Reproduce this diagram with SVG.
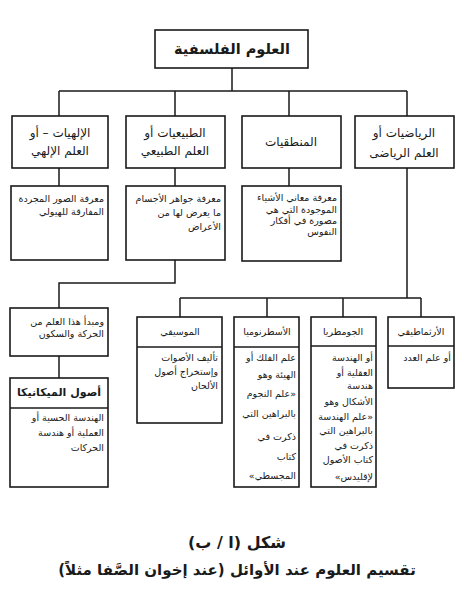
<svg xmlns="http://www.w3.org/2000/svg" width="476" height="591" viewBox="0 0 476 591">
<style>
.bx{fill:#fff;stroke:#1a1a1a;stroke-width:1.6}
.ln{fill:none;stroke:#1a1a1a;stroke-width:1.5}
text{font-family:"DejaVu Sans","Noto Sans",sans-serif;direction:rtl;fill:#1a1a1a}
.h{font-size:12px;text-anchor:middle}
.b{font-size:9.5px;text-anchor:start}
.c{font-size:9.5px;text-anchor:middle}
.ttl{font-size:14.5px;font-weight:bold;text-anchor:middle}
.mt{font-size:11px;font-weight:bold;text-anchor:middle}
.cap{font-size:16px;font-weight:bold;text-anchor:middle}
.cap2{font-size:15px;font-weight:bold;text-anchor:middle}
</style>
<rect width="476" height="591" fill="#fff"/>
<g id="connectors">
<path class="ln" d="M232 68V91M59 91H407M59 91V116M175 91V116M289 91V116M407 91V116"/>
<path class="ln" d="M59 168V186M175 168V186M289 168V186M407 168V298"/>
<path class="ln" d="M175 260V283H59V308M59 356V378"/>
<path class="ln" d="M180 298H421M180 298V317M267 298V317M343 298V317M421 298V317"/>
</g>
<g id="root">
<rect class="bx" x="155" y="30" width="153" height="38"/>
<text class="ttl" x="232" y="54">العلوم الفلسفية</text>
</g>
<g id="ilahiyat">
<rect class="bx" x="12" y="116" width="96" height="52"/>
<text class="h" x="60" y="137">الإلهيات – أو</text>
<text class="h" x="60" y="155">العلم الإلهي</text>
</g>
<g id="tabiiyat">
<rect class="bx" x="126" y="116" width="99" height="52"/>
<text class="h" x="175" y="137">الطبيعيات أو</text>
<text class="h" x="175" y="155">العلم الطبيعي</text>
</g>
<g id="mantiqiyat">
<rect class="bx" x="242" y="116" width="99" height="52"/>
<text class="h" x="291" y="146">المنطقيات</text>
</g>
<g id="riyadiyat">
<rect class="bx" x="355" y="116" width="99" height="52"/>
<text class="h" x="404" y="137">الرياضيات أو</text>
<text class="h" x="404" y="157">العلم الرياضى</text>
</g>
<g id="ilahiyat-desc">
<rect class="bx" x="11" y="186" width="97" height="74"/>
<text class="b" x="104" y="202">معرفة الصور المجردة</text>
<text class="b" x="104" y="215">المفارقة للهيولي</text>
</g>
<g id="tabiiyat-desc">
<rect class="bx" x="126" y="186" width="99" height="74"/>
<text class="b" x="221" y="202">معرفة جواهر الأجسام</text>
<text class="b" x="221" y="216">ما يعرض لها من</text>
<text class="b" x="221" y="230">الأعراض</text>
</g>
<g id="mantiqiyat-desc">
<rect class="bx" x="242" y="186" width="99" height="75"/>
<text class="b" x="337" y="201">معرفة معاني الأشياء</text>
<text class="b" x="337" y="213">الموجودة التي هي</text>
<text class="b" x="337" y="224">مصورة في أفكار</text>
<text class="b" x="337" y="235">النفوس</text>
</g>
<g id="mabda">
<rect class="bx" x="10" y="308" width="98" height="48"/>
<text class="b" x="104" y="325">ومبدأ هذا العلم من</text>
<text class="b" x="104" y="337">الحركة والسكون</text>
</g>
<g id="mechanics">
<rect class="bx" x="10" y="378" width="98" height="109"/>
<line class="ln" x1="10" y1="408" x2="108" y2="408"/>
<text class="mt" x="59" y="396">أصول الميكانيكا</text>
<text class="b" x="104" y="421">الهندسة الحسية أو</text>
<text class="b" x="104" y="436">العملية أو هندسة</text>
<text class="b" x="104" y="451">الحركات</text>
</g>
<g id="music">
<rect class="bx" x="137" y="317" width="85" height="106"/>
<line class="ln" x1="137" y1="347" x2="222" y2="347"/>
<text class="c" x="180" y="335">الموسيقي</text>
<text class="b" x="218" y="361">تأليف الأصوات</text>
<text class="b" x="218" y="375">وإستخراج أصول</text>
<text class="b" x="218" y="389">الألحان</text>
</g>
<g id="astronomy">
<rect class="bx" x="234" y="317" width="65" height="170"/>
<line class="ln" x1="234" y1="347" x2="299" y2="347"/>
<text class="c" x="267" y="335">الأسطرنوميا</text>
<text class="b" x="296" y="361">علم الفلك أو</text>
<text class="b" x="296" y="378">الهيئة وهو</text>
<text class="b" x="296" y="397">«علم النجوم</text>
<text class="b" x="296" y="417">بالبراهين التي</text>
<text class="b" x="296" y="440">ذكرت في</text>
<text class="b" x="296" y="460">كتاب</text>
<text class="b" x="296" y="479">المجسطي»</text>
</g>
<g id="geometry">
<rect class="bx" x="311" y="317" width="65" height="170"/>
<line class="ln" x1="311" y1="346" x2="376" y2="346"/>
<text class="c" x="343" y="335">الجومطريا</text>
<text class="b" x="373" y="361">أو الهندسة</text>
<text class="b" x="373" y="376">العقلية أو</text>
<text class="b" x="373" y="389">هندسة</text>
<text class="b" x="373" y="405">الأشكال وهو</text>
<text class="b" x="373" y="420">«علم الهندسة</text>
<text class="b" x="373" y="434">بالبراهين التي</text>
<text class="b" x="373" y="449">ذكرت في</text>
<text class="b" x="373" y="463">كتاب الأصول</text>
<text class="b" x="373" y="480">لإقليدس»</text>
</g>
<g id="arithmetic">
<rect class="bx" x="388" y="317" width="66" height="71"/>
<line class="ln" x1="388" y1="346" x2="454" y2="346"/>
<text class="c" x="421" y="335">الأرثماطيقي</text>
<text class="b" x="451" y="361">أو علم العدد</text>
</g>
<g id="caption">
<text class="cap" x="237" y="548">شكل (ا / ب)</text>
<text class="cap2" x="237" y="575">تقسيم العلوم عند الأوائل (عند إخوان الصَّفا مثلاً)</text>
</g>
</svg>
